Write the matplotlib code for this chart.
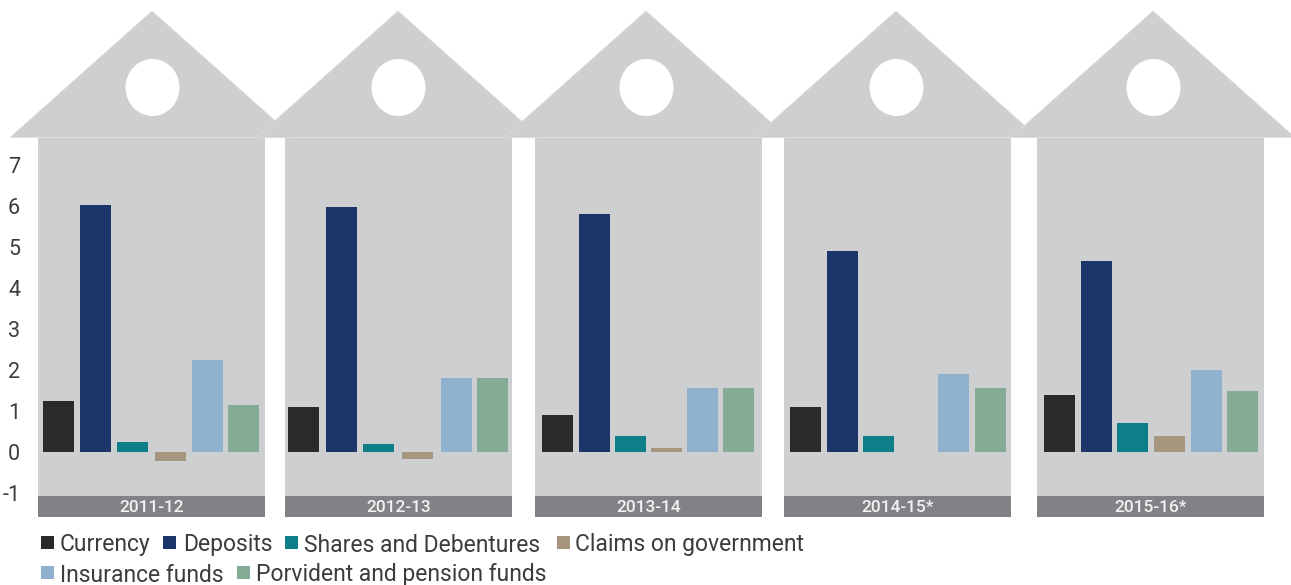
import numpy as np
import matplotlib
matplotlib.use('Agg')
import matplotlib.pyplot as plt
from matplotlib.patches import Polygon, Ellipse, Rectangle

plt.rcParams['font.family'] = ['Roboto', 'DejaVu Sans']

# data
years = ['2011-12', '2012-13', '2013-14', '2014-15*', '2015-16*']
currency = [1.25, 1.1, 0.9, 1.1, 1.4]
deposits = [6.02, 5.97, 5.8, 4.9, 4.67]
shares = [0.25, 0.2, 0.4, 0.4, 0.7]
claims = [-0.22, -0.17, 0.1, np.nan, 0.4]
insurance = [2.25, 1.8, 1.57, 1.9, 2.0]
provident = [1.15, 1.8, 1.57, 1.57, 1.5]
series_names = ['Currency', 'Deposits', 'Shares and Debentures', 'Claims on government',
                'Insurance funds', 'Porvident and pension funds']
y_ticks = [-1, 0, 1, 2, 3, 4, 5, 6, 7]
y_tick_labels = ['-1', '0', '1', '2', '3', '4', '5', '6', '7']

# layout, in pixels of the 1291x585 picture
W, H = 1291, 585
GRAY = '#cdcfd1'
colors = ['#2a2a2a', '#1b3568', '#0e7f88', '#a6957f', '#8fb0ce', '#85aa96']
panel_left = [38, 285, 535, 784, 1037]
panel_width = 227
apex_x = [152, 398, 646, 896, 1153]
bar_left = [
    [43, 80, 117, 155, 192, 228],
    [288, 326, 363, 402, 441, 477],
    [542, 579, 615, 651, 687, 723],
    [790, 827, 863, 900, 938, 975],
    [1044, 1081, 1117, 1154, 1191, 1227],
]
bar_width = 31
zero_px, unit_px = 452, 41

fig = plt.figure(figsize=(W / 100, H / 100), dpi=100)

# background axes: the houses, in pixel coordinates
bg = fig.add_axes([0, 0, 1, 1])
bg.set_xlim(0, W)
bg.set_ylim(H, 0)
bg.axis('off')

for i, ax_x in enumerate(apex_x):
    bg.add_patch(Rectangle((panel_left[i], 138), panel_width, 358, fc=GRAY, ec='none'))
    bg.add_patch(Polygon([(ax_x - 142, 137.5), (ax_x, 11), (ax_x + 142, 137.5)],
                         closed=True, fc=GRAY, ec='#dcddde', lw=0.5))
for ax_x in apex_x:
    bg.add_patch(Ellipse((ax_x + 0.5, 87.5), 54, 57, fc='white', ec='none'))

for i, year in enumerate(years):
    bg.add_patch(Rectangle((panel_left[i], 496), panel_width, 21, fc='#808285', ec='none'))
    bg.text(panel_left[i] + panel_width / 2, 507, year, color='#f2f2f2', fontsize=12.5,
            fontweight='medium', ha='center', va='center')

# legend, two rows
legend_items = [(41, 60, 543), (163, 183, 543), (285, 304, 543), (557, 575, 543),
                (41, 60, 573), (237, 256, 573)]
for (sq_x, txt_x, y), name, col in zip(legend_items, series_names, colors):
    bg.add_patch(Rectangle((sq_x, y - 7), 13, 13, fc=col, ec='none'))
    bg.text(txt_x, y + 2, name, color='#3c3c3e', fontsize=16.5, ha='left', va='center')

# bar axes on top, sharing the same pixel frame
ax = fig.add_axes([0, 0, 1, 1])
ax.patch.set_alpha(0)
ax.set_xlim(0, W)
ax.set_ylim((zero_px - H) / unit_px, zero_px / unit_px)
for s in ax.spines.values():
    s.set_visible(False)
ax.set_xticks([])
ax.set_yticks(y_ticks)
ax.set_yticklabels(y_tick_labels)
ax.tick_params(axis='y', length=0, direction='in', pad=-14.5, labelsize=15.5, labelcolor='#3c3c3e')

all_series = [currency, deposits, shares, claims, insurance, provident]
for j, (vals, col) in enumerate(zip(all_series, colors)):
    xs = [bar_left[i][j] for i in range(len(years))]
    ax.bar(xs, vals, width=bar_width, align='edge', color=col)

fig.savefig('out.png', dpi=100)
